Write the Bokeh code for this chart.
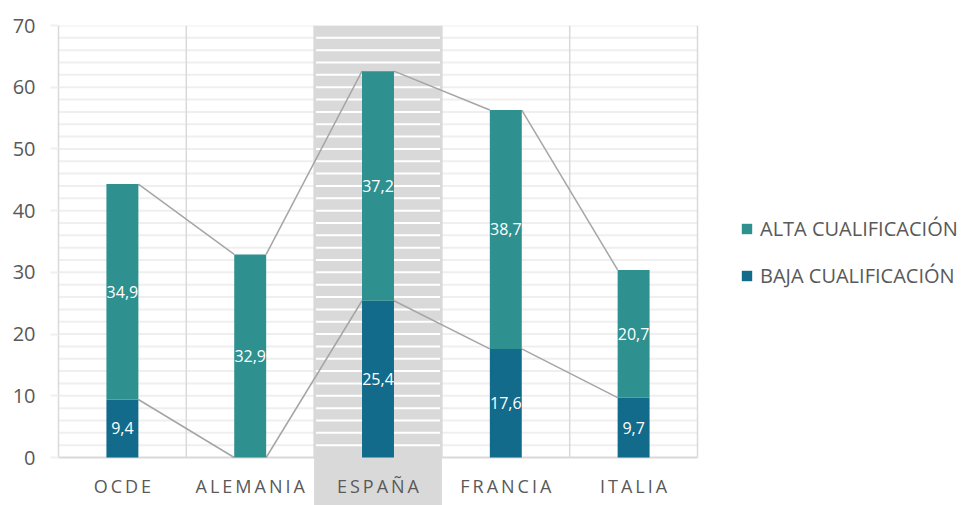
from bokeh.plotting import figure
from bokeh.models import Range1d, FixedTicker, Legend, LegendItem, ColumnDataSource
from bokeh.core.properties import value
from bokeh.embed import file_html
from bokeh.resources import INLINE

# ---- data ----
categories = ["OCDE", "ALEMANIA", "ESPAÑA", "FRANCIA", "ITALIA"]
baja = [9.4, 0.0, 25.4, 17.6, 9.7]
alta = [34.9, 32.9, 37.2, 38.7, 20.7]
y_ticks = [0, 10, 20, 30, 40, 50, 60, 70]
highlight = "ESPAÑA"
series_names = ["ALTA CUALIFICACIÓN", "BAJA CUALIFICACIÓN"]

# ---- layout constants ----
W, H = 968, 505
LEFT, TOP = 58, 25
PLOT_RIGHT = 697
AXIS_Y = 457
YMAX = 70
n = len(categories)
px_cat = (PLOT_RIGHT - LEFT) / n
px_unit = (AXIS_Y - TOP) / YMAX
ymin = -(H - AXIS_Y) / px_unit
x_end = (W - LEFT) / px_cat
BAR_W = 0.25
FONT = "Open Sans"
TXT = "#595959"
C_ALTA = "#2e908f"
C_BAJA = "#126b8a"
GRID = "#efefef"
LINE = "#d9d9d9"

p = figure(width=W, height=H, x_range=Range1d(0, x_end), y_range=Range1d(ymin, YMAX),
           output_backend="svg", toolbar_location=None, x_axis_location=None,
           min_border_left=LEFT, min_border_right=0, min_border_top=TOP, min_border_bottom=0)
p.grid.visible = False
p.outline_line_color = None
p.background_fill_color = "white"

ax = p.yaxis[0]
ax.ticker = FixedTicker(ticks=y_ticks)
ax.bounds = (0, YMAX)
ax.axis_line_color = LINE
ax.axis_line_width = 1.5
ax.major_tick_line_color = GRID
ax.major_tick_line_width = 2
ax.major_tick_out = 8
ax.major_tick_in = 0
ax.minor_tick_line_color = None
ax.major_label_text_font = FONT
ax.major_label_text_font_size = "20px"
ax.major_label_text_color = TXT
ax.major_label_standoff = 15

xs = [i + 0.5 for i in range(n)]
hi = categories.index(highlight)

# horizontal gridlines (every 2 units)
gy = [v for v in range(2, YMAX + 1, 2)]
p.segment(x0=[0] * len(gy), x1=[n] * len(gy), y0=gy, y1=gy, line_color=GRID, line_width=2)
# vertical category separators
vx = list(range(1, n + 1))
p.segment(x0=vx, x1=vx, y0=[0] * len(vx), y1=[YMAX] * len(vx), line_color=LINE, line_width=1.5)
# bottom axis line
p.segment(x0=[0], x1=[n], y0=[0], y1=[0], line_color=LINE, line_width=2)
# highlight column
p.quad(left=[hi], right=[hi + 1], bottom=[ymin], top=[YMAX], fill_color="#d9d9d9", line_color=None)
wy = [v for v in range(2, YMAX, 2)]
p.segment(x0=[hi + 0.015] * len(wy), x1=[hi + 0.985] * len(wy), y0=wy, y1=wy,
          line_color="white", line_width=2)

# series lines
tops = [b + a for b, a in zip(baja, alta)]
for ser in (baja, tops):
    p.segment(x0=[xs[i] + BAR_W / 2 for i in range(n - 1)],
              x1=[xs[i + 1] - BAR_W / 2 for i in range(n - 1)],
              y0=ser[:-1], y1=ser[1:], line_color="#a5a5a5", line_width=1.5)

# bars
src = ColumnDataSource(dict(x=xs, baja=baja, top=tops))
r_baja = p.vbar(x="x", width=BAR_W, bottom=0, top="baja", source=src, fill_color=C_BAJA, line_color=None)
r_alta = p.vbar(x="x", width=BAR_W, bottom="baja", top="top", source=src, fill_color=C_ALTA, line_color=None)

# data labels
lx, ly, lt = [], [], []
for i in range(n):
    if baja[i] > 0:
        lx.append(xs[i]); ly.append(baja[i] / 2); lt.append(f"{baja[i]:.1f}".replace(".", ","))
    if alta[i] > 0:
        lx.append(xs[i]); ly.append(baja[i] + alta[i] / 2); lt.append(f"{alta[i]:.1f}".replace(".", ","))
p.text(x=lx, y=ly, text=lt, text_color="white", text_font=value(FONT), text_font_size="16px",
       text_align="center", text_baseline="middle")

# category labels (letter-spaced)
cat_y = -(485 - AXIS_Y) / px_unit
p.text(x=xs, y=[cat_y] * n, text=["\u2009".join(c) for c in categories], text_color=TXT,
       text_font=value(FONT), text_font_size="18px", text_align="center", text_baseline="middle")

legend = Legend(items=[LegendItem(label=series_names[0], renderers=[r_alta]),
                       LegendItem(label=series_names[1], renderers=[r_baja])],
                location=(682, 216), padding=0, margin=0, spacing=20,
                glyph_width=13, glyph_height=13, label_height=24, label_standoff=7,
                label_text_font=FONT, label_text_font_size="20px", label_text_color=TXT,
                border_line_color=None, background_fill_alpha=0)
p.add_layout(legend)

open("out.html", "w").write(file_html(p, INLINE))
